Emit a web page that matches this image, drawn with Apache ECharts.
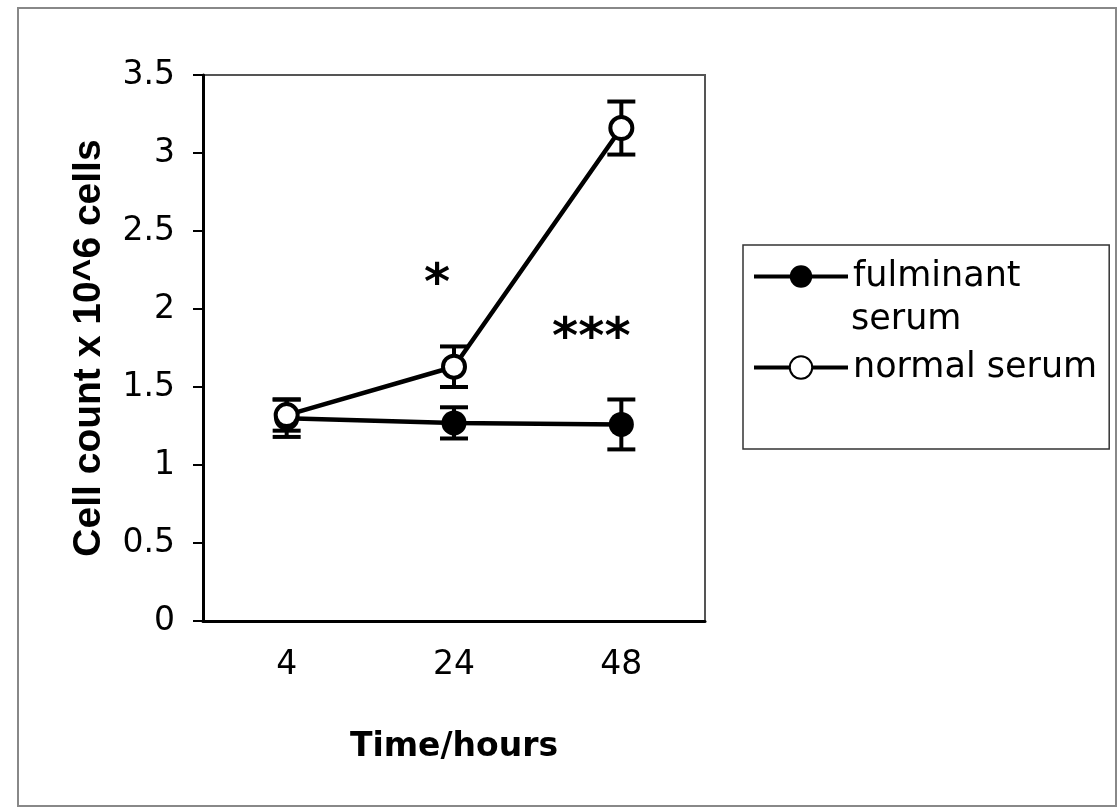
<!DOCTYPE html>
<html>
<head>
<meta charset="utf-8">
<style>
  html, body { margin: 0; padding: 0; background: #fff; }
  #chart { width: 1119px; height: 811px; }
</style>
<script src="https://cdn.jsdelivr.net/npm/echarts@6/dist/echarts.min.js"></script>
</head>
<body>
<div id="chart"></div>
<script>
// values
const hours = ['4', '24', '48'];
const fulminantMean = [1.30, 1.27, 1.26];
const fulminantErr = [0.12, 0.10, 0.16];
const normalMean = [1.32, 1.63, 3.16];
const normalErr = [0.10, 0.13, 0.17];

// significance marks
const starHours = ['24', '48'];
const starLevels = [2.15, 1.8];
const starTexts = ['*', '***'];
const starShift = [-17, -30];

const chart = echarts.init(document.getElementById('chart'));

const errorData = (means, errs) => means.map((m, i) => [i, m - errs[i], m + errs[i]]);

const renderErrorBar = (params, api) => {
    const low = api.coord([api.value(0), api.value(1)]);
    const high = api.coord([api.value(0), api.value(2)]);
    const cap = 14;
    const style = { stroke: '#000', lineWidth: 4 };
    return {
        type: 'group',
        children: [
            { type: 'line', shape: { x1: high[0], y1: high[1], x2: low[0], y2: low[1] }, style },
            { type: 'line', shape: { x1: high[0] - cap, y1: high[1], x2: high[0] + cap, y2: high[1] }, style },
            { type: 'line', shape: { x1: low[0] - cap, y1: low[1], x2: low[0] + cap, y2: low[1] }, style }
        ]
    };
};

const tickFont = { fontFamily: 'DejaVu Sans', fontSize: 33, color: '#000' };

const option = {
    animation: false,
    backgroundColor: '#fff',
    grid: {
        left: 203,
        top: 75,
        width: 502,
        height: 546,
        show: true,
        borderColor: '#555',
        borderWidth: 2
    },
    legend: {
        orient: 'vertical',
        left: 743,
        top: 245,
        padding: [14, 12, 64, 9],
        itemGap: 56,
        itemWidth: 94,
        itemHeight: 28,
        borderColor: '#333',
        borderWidth: 1.5,
        data: ['fulminant serum', 'normal serum'],
        formatter: name => name === 'fulminant serum' ? 'fulminant' : name,
        lineStyle: { width: 4 },
        textStyle: { fontFamily: 'DejaVu Sans', fontSize: 35, color: '#000' }
    },
    graphic: [
        {
            type: 'rect',
            shape: { x: 18, y: 8, width: 1098, height: 798 },
            style: { fill: 'none', stroke: '#888', lineWidth: 2 },
            silent: true
        },
        {
            type: 'text',
            left: 851,
            top: 302,
            style: { text: 'serum', font: '35px "DejaVu Sans"', fill: '#000' }
        }
    ],
    xAxis: {
        type: 'category',
        data: hours,
        boundaryGap: true,
        axisLine: { lineStyle: { color: '#000', width: 3 } },
        axisTick: { length: 10, lineStyle: { color: '#000', width: 2 } },
        axisLabel: { ...tickFont, margin: 28 },
        splitLine: { show: false },
        name: 'Time/hours',
        nameLocation: 'middle',
        nameGap: 110,
        nameTextStyle: { fontFamily: 'DejaVu Sans', fontWeight: 'bold', fontSize: 33, color: '#000' }
    },
    yAxis: {
        type: 'value',
        min: 0,
        max: 3.5,
        interval: 0.5,
        axisLine: { show: true, lineStyle: { color: '#000', width: 3 } },
        axisTick: { show: true, length: 10, lineStyle: { color: '#000', width: 2 } },
        axisLabel: { ...tickFont, margin: 28 },
        splitLine: { show: false },
        name: 'Cell count x 10^6 cells',
        nameLocation: 'middle',
        nameRotate: 90,
        nameGap: 94,
        nameTextStyle: { fontFamily: 'Liberation Sans', fontWeight: 'bold', fontSize: 39, color: '#000' }
    },
    series: [
        {
            name: 'fulminant err',
            type: 'custom',
            renderItem: renderErrorBar,
            encode: { x: 0, y: [1, 2] },
            data: errorData(fulminantMean, fulminantErr),
            z: 1
        },
        {
            name: 'normal err',
            type: 'custom',
            renderItem: renderErrorBar,
            encode: { x: 0, y: [1, 2] },
            data: errorData(normalMean, normalErr),
            z: 1
        },
        {
            name: 'fulminant serum',
            type: 'line',
            data: fulminantMean,
            symbol: 'circle',
            symbolSize: 25,
            lineStyle: { color: '#000', width: 4.5 },
            itemStyle: { color: '#000' },
            z: 3
        },
        {
            name: 'normal serum',
            type: 'line',
            data: normalMean,
            symbol: 'circle',
            symbolSize: 22,
            lineStyle: { color: '#000', width: 4.5 },
            itemStyle: { color: '#fff', borderColor: '#000', borderWidth: 4 },
            z: 4
        },
        {
            name: 'stars',
            type: 'scatter',
            symbolSize: 1,
            itemStyle: { color: 'rgba(0,0,0,0)', opacity: 1 },
            data: starHours.map((h, i) => ({
                value: [h, starLevels[i]],
                label: {
                    show: true,
                    formatter: starTexts[i],
                    offset: [starShift[i], 0],
                    position: 'inside',
                    fontFamily: 'DejaVu Sans',
                    fontWeight: 'bold',
                    fontSize: 50,
                    color: '#000',
                    opacity: 1
                }
            })),
            z: 5
        }
    ]
};

chart.setOption(option);
</script>
</body>
</html>
